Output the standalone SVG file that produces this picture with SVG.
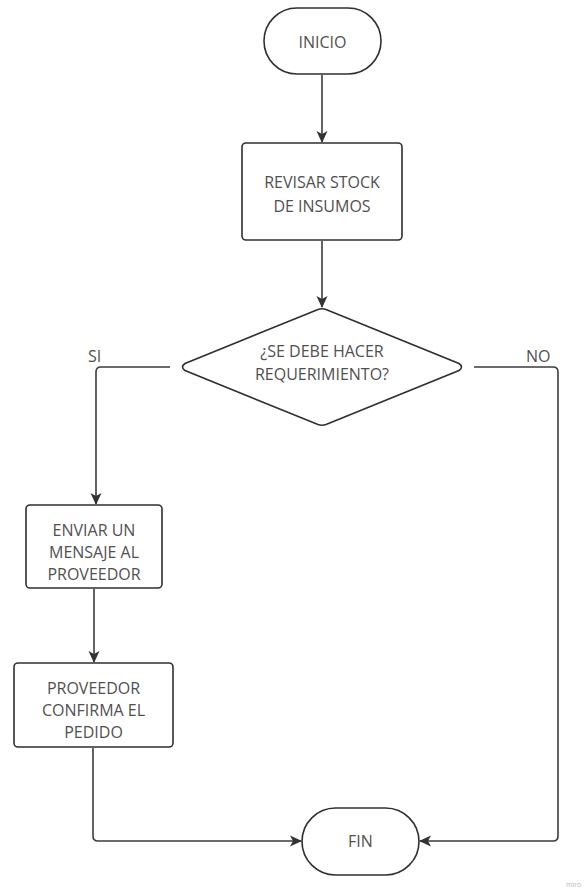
<svg xmlns="http://www.w3.org/2000/svg" width="586" height="893" viewBox="0 0 586 893">
  <style>
    .shape { fill: #ffffff; stroke: #2f2f2f; stroke-width: 1.6; }
    .label { font-family: "Open Sans", "Liberation Sans", sans-serif; font-size: 16px; fill: #505050; text-anchor: middle; dominant-baseline: central; }
    .edge { fill: none; stroke: #3c3c3c; stroke-width: 1.6; stroke-linejoin: round; }
    .tag { font-family: "Open Sans", "Liberation Sans", sans-serif; font-size: 16px; fill: #505050; }
    .mark { font-family: "Open Sans", "Liberation Sans", sans-serif; font-size: 7px; fill: #b8b8b8; }
  </style>
  <defs>
    <marker id="arrow" viewBox="0 0 12 12" refX="11" refY="6" markerWidth="12" markerHeight="12" markerUnits="userSpaceOnUse" orient="auto">
      <path d="M0,0.5 L12,6 L0,11.5 L3,6 Z" fill="#333333"/>
    </marker>
  </defs>
  <rect width="586" height="893" fill="#ffffff"/>

  <g id="connectors">
    <path class="edge" d="M322,75 L322,142" marker-end="url(#arrow)"/>
    <path class="edge" d="M322,241 L322,307" marker-end="url(#arrow)"/>
    <path class="edge" d="M170,367 L101,367 Q96,367 96,372 L96,504" marker-end="url(#arrow)"/>
    <path class="edge" d="M474,367 L553,367 Q558,367 558,372 L558,836 Q558,841 553,841 L420,841" marker-end="url(#arrow)"/>
    <path class="edge" d="M94,589 L94,662" marker-end="url(#arrow)"/>
    <path class="edge" d="M93,748 L93,836 Q93,841 98,841 L301,841" marker-end="url(#arrow)"/>
  </g>

  <g id="edge-labels">
    <text class="tag" x="88" y="362">SI</text>
    <text class="tag" x="526" y="362">NO</text>
  </g>

  <g id="inicio">
    <rect class="shape" x="264" y="8" width="117" height="66" rx="33" ry="33"/>
    <text class="label" x="322.5" y="42">INICIO</text>
  </g>

  <g id="revisar-stock">
    <rect class="shape" x="242" y="143" width="160" height="97" rx="4" ry="4"/>
    <text class="label" x="322" y="182">REVISAR STOCK</text>
    <text class="label" x="322" y="206">DE INSUMOS</text>
  </g>

  <g id="requerimiento">
    <path class="shape" d="M318,309.5 Q322,308 326,309.5 L459,363.5 Q464,367 459,370.5 L326,424.5 Q322,426 318,424.5 L185,370.5 Q180,367 185,363.5 Z"/>
    <text class="label" x="322" y="351">¿SE DEBE HACER</text>
    <text class="label" x="322" y="374">REQUERIMIENTO?</text>
  </g>

  <g id="enviar-mensaje">
    <rect class="shape" x="26" y="505" width="136" height="83" rx="4" ry="4"/>
    <text class="label" x="94" y="530">ENVIAR UN</text>
    <text class="label" x="94" y="552">MENSAJE AL</text>
    <text class="label" x="94" y="574">PROVEEDOR</text>
  </g>

  <g id="proveedor-confirma">
    <rect class="shape" x="14" y="663" width="159" height="84" rx="4" ry="4"/>
    <text class="label" x="93.5" y="688">PROVEEDOR</text>
    <text class="label" x="93.5" y="710">CONFIRMA EL</text>
    <text class="label" x="93.5" y="732">PEDIDO</text>
  </g>

  <g id="fin">
    <rect class="shape" x="302" y="808" width="117" height="67" rx="33.5" ry="33.5"/>
    <text class="label" x="360.5" y="841">FIN</text>
  </g>

  <text class="mark" x="566" y="887">miro</text>
</svg>
